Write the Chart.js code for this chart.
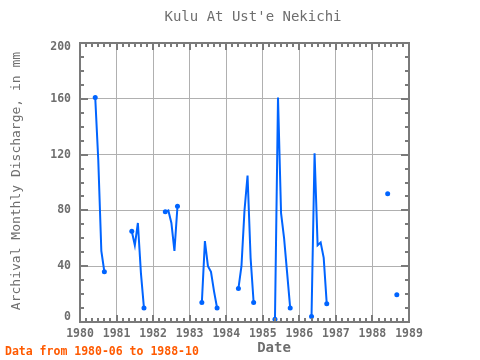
<!DOCTYPE html>
<html>
<head>
<meta charset="utf-8">
<script src="https://cdn.jsdelivr.net/npm/chart.js@4"></script>
<style>html,body{margin:0;padding:0;background:#fff;}canvas{display:block;}</style>
</head>
<body>
<canvas id="c" width="480" height="360"></canvas>
<script>
// ---- data (null = gap in record) ----
const months = [
  '1980-06','1980-07','1980-08','1980-09','1980-10',
  '1981-06','1981-07','1981-08','1981-09','1981-10','1981-11',
  '1982-05','1982-06','1982-07','1982-08','1982-09','1982-10',
  '1983-05','1983-06','1983-07','1983-08','1983-09','1983-10','1983-11',
  '1984-05','1984-06','1984-07','1984-08','1984-09','1984-10','1984-11',
  '1985-05','1985-06','1985-07','1985-08','1985-09','1985-10','1985-11',
  '1986-05','1986-06','1986-07','1986-08','1986-09','1986-10','1986-11',
  '1988-06','1988-07','1988-09'
];
const discharge = [
  161,116,51,36,null,
  65,55,71,35,10,null,
  79,80,71,51,83,null,
  14,58,40,36,22,10,null,
  24,40,80,105,46,14,null,
  2,161,78,60,35,10,null,
  4,121,55,57,46,13,null,
  92,null,19.5
];
const yTicks = [0,40,80,120,160,200];
const xYears = [1980,1981,1982,1983,1984,1985,1986,1987,1988,1989];
const titleText = "Kulu At Ust'e Nekichi";
const yTitle = "Archival Monthly Discharge, in mm";
const xTitle = "Date";
const noteText = "Data from 1980-06 to 1988-10";

function toYear(m){const [y,mo]=m.split('-').map(Number);return y+(mo-1)/12;}
const pts = months.map((m,i)=>({x:toYear(m),y:discharge[i]}));
const radii = discharge.map((v,i)=>{
  if(v===null) return 0;
  const p = i>0?discharge[i-1]:null, n = i<discharge.length-1?discharge[i+1]:null;
  return (p===null||n===null)?2.5:0;
});

const GRAY='#6e6e6e';
const mono='"DejaVu Sans Mono", "Liberation Mono", monospace';

const frame = {
  id:'frame',
  afterDraw(chart){
    const {ctx, chartArea:a, scales:{x,y}} = chart;
    ctx.save();
    ctx.strokeStyle='#7a7a7a';
    ctx.lineWidth=2;
    for(let yr=xYears[0]; yr<=xYears[xYears.length-1]+1e-6; yr+=1/6){
      const r=Math.round(yr*6)/6;
      const px=Math.round(x.getPixelForValue(r));
      const major=Math.abs(r-Math.round(r))<1e-6;
      const L=major?7:4;
      ctx.beginPath();
      ctx.moveTo(px,a.top);ctx.lineTo(px,a.top+L);
      ctx.moveTo(px,a.bottom);ctx.lineTo(px,a.bottom-L);
      ctx.stroke();
    }
    for(let v=0; v<=200; v+=10){
      const py=Math.round(y.getPixelForValue(v));
      const major=v%40===0;
      const L=major?8:4;
      ctx.beginPath();
      ctx.moveTo(a.left,py);ctx.lineTo(a.left+L,py);
      ctx.moveTo(a.right,py);ctx.lineTo(a.right-L,py);
      ctx.stroke();
    }
    ctx.strokeRect(a.left,a.top,a.right-a.left,a.bottom-a.top);
    // y tick labels (kept inside the frame's vertical span)
    ctx.fillStyle=GRAY;
    ctx.font='bold 11.5px '+mono;
    ctx.textAlign='right';ctx.textBaseline='middle';
    yTicks.forEach(v=>{
      let py=y.getPixelForValue(v);
      py=Math.min(Math.max(py,a.top+4),a.bottom-5);
      ctx.fillText(String(v),a.left-9,py);
    });
    // texts
    ctx.textAlign='center';
    ctx.font='14px '+mono;
    ctx.fillText(titleText,253,17);
    ctx.font='bold 14px '+mono;
    ctx.fillText(xTitle,274,348);
    ctx.save();
    ctx.translate(17,181);ctx.rotate(-Math.PI/2);
    ctx.font='13px '+mono;
    ctx.fillText(yTitle,0,0);
    ctx.restore();
    ctx.fillStyle='#ff5a00';
    ctx.textAlign='left';
    ctx.font='bold 11.5px '+mono;
    ctx.fillText(noteText,5,352);
    ctx.restore();
  }
};

new Chart(document.getElementById('c'),{
  type:'line',
  data:{datasets:[{
    data:pts,
    borderColor:'#0064ff',
    backgroundColor:'#0064ff',
    borderWidth:2,
    pointRadius:radii,
    pointHoverRadius:radii,
    pointBorderWidth:0,
    spanGaps:false,
    tension:0
  }]},
  options:{
    responsive:false,
    animation:false,
    events:[],
    layout:{padding:{top:43,right:71,left:0,bottom:0}},
    plugins:{legend:{display:false},tooltip:{enabled:false},title:{display:false}},
    scales:{
      x:{
        type:'linear',min:1980,max:1989,
        afterFit(s){s.height=38;},
        afterBuildTicks(s){s.ticks=xYears.map(v=>({value:v}));},
        grid:{color:'#b0b0b0',lineWidth:1,drawTicks:false},
        border:{display:false},
        ticks:{padding:5,color:GRAY,font:{family:mono,size:11.5,weight:'bold'},callback:v=>String(v),maxRotation:0,autoSkip:false}
      },
      y:{
        min:0,max:200,
        afterFit(s){s.width=80;},
        afterBuildTicks(s){s.ticks=yTicks.map(v=>({value:v}));},
        grid:{color:'#b0b0b0',lineWidth:1,drawTicks:false},
        border:{display:false},
        ticks:{display:false}
      }
    }
  },
  plugins:[frame]
});
</script>
</body>
</html>
